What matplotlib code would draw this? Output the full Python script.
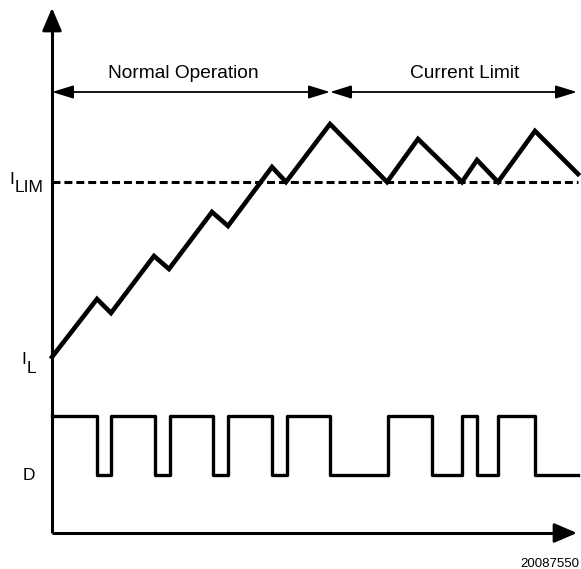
import matplotlib
matplotlib.use("Agg")
import matplotlib.pyplot as plt

plt.rcParams["font.family"] = ["Liberation Sans", "DejaVu Sans"]

# inductor current waveform (time, current), arbitrary units
t_il = [0, 45, 59, 102, 117, 160, 176, 220, 234, 278, 335, 366, 410, 425, 446, 483, 526]
i_il = [176, 234, 220, 277, 264, 321, 307, 366, 351, 409, 351, 394, 351, 373, 351, 402, 359]
i_lim = 351

# duty cycle D: switching instants and levels
t_d = [0, 45, 59, 103, 118, 161, 176, 220, 235, 278, 336, 380, 410, 425, 446, 483, 526]
d_lvl = [117, 58, 117, 58, 117, 58, 117, 58, 117, 58, 117, 58, 117, 58, 117, 58, 58]

t_max = 525
t_switch = 278
band_y = 441

fig = plt.figure(figsize=(5.81, 5.69), dpi=100)
ax = fig.add_axes([0, 0, 1, 1])
ax.set_xlim(-52, 529)
ax.set_ylim(-36, 533)
ax.axis("off")

# axes with arrows
ax.plot([0, t_max - 15], [0, 0], color="k", lw=2.2, solid_capstyle="butt")
ax.plot([0, 0], [0, t_max - 15], color="k", lw=2.2, solid_capstyle="butt")
ax.annotate("", xy=(t_max, 0), xytext=(t_max - 20, 0),
            arrowprops=dict(arrowstyle="-|>,head_length=1.4,head_width=0.6", lw=2, color="k",
                            shrinkA=0, shrinkB=0))
ax.annotate("", xy=(0, t_max), xytext=(0, t_max - 20),
            arrowprops=dict(arrowstyle="-|>,head_length=1.4,head_width=0.6", lw=2, color="k",
                            shrinkA=0, shrinkB=0))

# current limit line
ax.plot([0, 526], [i_lim, i_lim], color="k", lw=2.2, dashes=(2.6, 1.3), dash_capstyle="butt")

# waveforms
ax.plot(t_il, i_il, color="k", lw=3.3, solid_joinstyle="miter")
ax.step(t_d, d_lvl, where="post", color="k", lw=2.4)

# region arrows
arr = dict(arrowstyle="<|-|>,head_length=1.3,head_width=0.4", lw=1.3, color="k",
           shrinkA=0, shrinkB=0)
ax.annotate("", xy=(0, band_y), xytext=(t_switch, band_y), arrowprops=arr)
ax.annotate("", xy=(t_switch, band_y), xytext=(t_max, band_y), arrowprops=arr)
ax.text(131, 460, "Normal Operation", ha="center", va="center", fontsize=13.8)
ax.text(413, 460, "Current Limit", ha="center", va="center", fontsize=13.8)

# labels
ax.text(-43, 349, "I", ha="left", va="baseline", fontsize=12.5)
ax.text(-37, 341, "LIM", ha="left", va="baseline", fontsize=12.5)
ax.text(-31, 169, "I", ha="left", va="baseline", fontsize=12.5)
ax.text(-25, 160, "L", ha="left", va="baseline", fontsize=12.5)
ax.text(-29, 53, "D", ha="left", va="baseline", fontsize=12.5)
ax.text(527, -34, "20087550", ha="right", va="baseline", fontsize=9.5)

fig.savefig("out.png", dpi=100)
